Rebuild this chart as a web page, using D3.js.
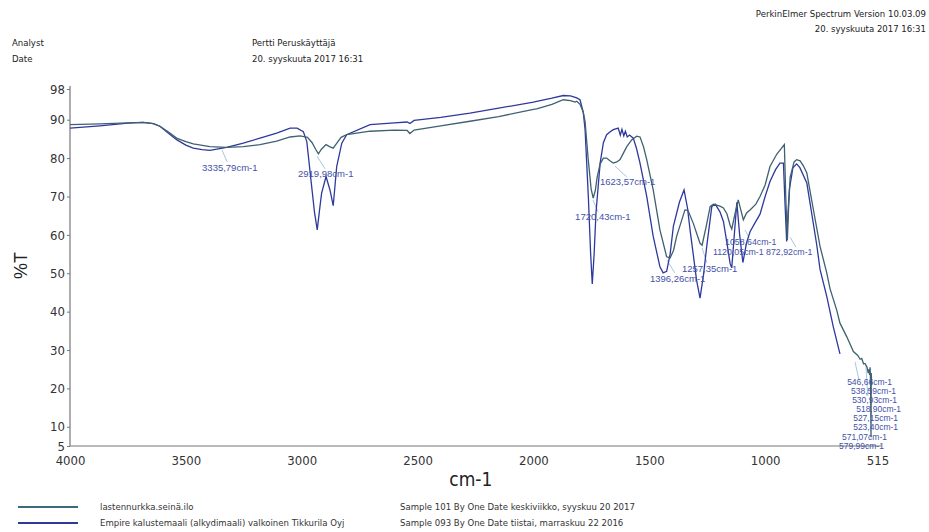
<!DOCTYPE html>
<html>
<head>
<meta charset="utf-8">
<script src="https://cdn.jsdelivr.net/npm/d3@7"></script>
<style>
  body { margin: 0; background: #fff; }
  svg text { font-family: "Liberation Sans Narrow", "Arial Narrow", "DejaVu Sans Condensed", sans-serif; }
</style>
</head>
<body>
<div id="spectrum"></div>
<script>
// lastennurkka.seinä.ilo (dark line)
var wnA = [4000, 3870, 3750, 3685, 3640, 3612, 3575, 3540, 3500, 3468, 3396, 3324, 3252, 3180, 3108, 3050, 3007, 2975, 2955, 2940, 2928, 2915, 2895, 2880, 2864, 2850, 2830, 2806, 2705, 2600, 2545, 2533, 2515, 2400, 2274, 2150, 2000, 1986, 1920, 1871, 1840, 1820, 1813, 1799, 1785, 1777, 1764, 1751, 1742, 1733, 1725, 1712, 1698, 1684, 1670, 1655, 1640, 1626, 1610, 1597, 1575, 1554, 1540, 1525, 1511, 1483, 1454, 1425, 1410, 1395, 1382, 1346, 1333, 1310, 1281, 1272, 1255, 1237, 1223, 1195, 1180, 1165, 1151, 1144, 1130, 1116, 1105, 1094, 1080, 1065, 1040, 1022, 1000, 979, 950, 917, 911, 904, 898, 892, 875, 864, 849, 835, 820, 793, 763, 734, 720, 691, 677, 648, 619, 600, 590, 583, 575, 569, 560, 555, 551, 549, 547, 545, 543, 542, 540]
var tA = [88.7, 88.9, 89.2, 89.3, 89.0, 88.3, 86.8, 85.2, 84.3, 83.7, 83.0, 82.8, 83.0, 83.5, 84.4, 85.5, 85.8, 85.4, 84.0, 82.3, 81.1, 82.3, 83.5, 83.0, 82.6, 83.8, 85.4, 86.1, 87.0, 87.3, 87.2, 86.4, 87.3, 88.4, 89.6, 90.8, 92.7, 92.8, 94.0, 95.2, 95.0, 94.6, 94.8, 94.0, 92.0, 89.5, 80.0, 72.0, 69.6, 71.5, 75.0, 78.5, 80.0, 80.0, 79.3, 78.7, 79.0, 79.6, 81.5, 83.0, 84.8, 85.7, 85.5, 83.0, 79.6, 71.7, 61.3, 54.3, 54.0, 56.0, 59.6, 66.5, 66.4, 63.0, 57.8, 57.3, 62.0, 67.4, 68.0, 67.5, 67.0, 65.5, 62.5, 61.5, 65.5, 69.1, 66.5, 63.9, 65.7, 66.5, 68.0, 70.0, 73.0, 77.8, 81.0, 83.5, 70.0, 58.7, 68.0, 75.0, 79.0, 79.6, 79.3, 78.0, 76.1, 67.0, 57.0, 50.1, 46.0, 40.4, 37.0, 33.5, 29.6, 28.6, 27.6, 27.8, 26.4, 26.5, 25.5, 24.0, 25.0, 23.5, 25.5, 22.0, 7.3, 24.0, 21.0]

// Empire kalustemaali (blue line)
var wnB = [4000, 3871, 3750, 3685, 3640, 3612, 3575, 3540, 3500, 3468, 3430, 3396, 3324, 3252, 3180, 3108, 3050, 3020, 2993, 2978, 2957, 2945, 2933, 2924, 2914, 2895, 2878, 2864, 2849, 2827, 2806, 2705, 2600, 2545, 2533, 2515, 2400, 2274, 2150, 2000, 1986, 1920, 1871, 1840, 1813, 1799, 1785, 1777, 1763, 1753, 1746, 1738, 1730, 1720, 1712, 1698, 1684, 1670, 1655, 1634, 1625, 1618, 1610, 1603, 1595, 1585, 1569, 1555, 1540, 1511, 1483, 1454, 1440, 1425, 1410, 1396, 1370, 1350, 1335, 1324, 1296, 1281, 1266, 1252, 1230, 1215, 1195, 1180, 1165, 1151, 1144, 1133, 1122, 1110, 1096, 1080, 1065, 1045, 1022, 1000, 979, 955, 936, 921, 914, 907, 901, 895, 880, 864, 850, 820, 800, 777, 763, 734, 706, 677]
var tB = [87.8, 88.4, 89.1, 89.3, 89.0, 88.3, 86.5, 84.8, 83.4, 82.6, 82.2, 82.0, 82.8, 83.9, 85.2, 86.5, 87.8, 87.8, 86.9, 84.3, 72.6, 66.0, 61.3, 66.0, 70.9, 75.2, 71.7, 67.6, 77.8, 83.9, 86.1, 88.7, 89.2, 89.4, 89.0, 89.8, 90.6, 91.7, 93.0, 94.6, 94.8, 95.6, 96.3, 96.2, 95.7, 95.2, 92.0, 87.4, 70.0, 55.0, 47.2, 55.0, 65.7, 73.0, 78.7, 84.0, 86.1, 86.8, 87.4, 87.8, 86.0, 87.5, 85.8, 87.0, 85.5, 86.0, 85.2, 82.5, 78.7, 70.0, 59.6, 51.7, 50.1, 50.5, 55.0, 62.2, 68.5, 71.7, 67.0, 61.3, 48.3, 43.5, 49.5, 57.0, 67.4, 68.0, 66.0, 63.5, 58.0, 52.5, 51.4, 60.0, 68.5, 60.0, 52.8, 58.0, 60.8, 63.0, 65.4, 70.0, 73.9, 77.0, 78.7, 78.7, 68.0, 58.3, 66.0, 72.0, 77.5, 78.5, 77.5, 73.5, 66.0, 57.3, 51.0, 44.0, 36.1, 29.0]

// peak labels: text, label position (wn, %T), font size; leader line from/to (wn, %T)
var peakText = ["3335,79cm-1", "2919,98cm-1", "1720,43cm-1", "1623,57cm-1", "1396,26cm-1", "1257,35cm-1", "1058,64cm-1", "1120,05cm-1", "872,92cm-1",
  "546,66cm-1", "538,59cm-1", "530,93cm-1", "518,90cm-1", "527,15cm-1", "523,40cm-1", "571,07cm-1", "579,99cm-1"]
var peakLabelWn = [3430, 3016, 1820, 1713, 1497, 1359, 1173, 1225, 996, 646, 629, 624.5, 607, 620, 620, 668, 681]
var peakLabelT = [76.6, 75.1, 63.9, 73.0, 47.7, 50.3, 57.4, 54.8, 54.8, 20.9, 18.5, 16.2, 13.9, 11.5, 9.2, 6.6, 4.2]
var peakFont = [9.5, 9.5, 9.5, 9.5, 9.5, 9.5, 8.8, 8.8, 8.8, 8.5, 8.5, 8.5, 8.5, 8.5, 8.5, 8.5, 8.5]
var leaderWn1 = [3344, 2934, 1743, 1648, 1424, 1272, 1087, 892, 612, 565]
var leaderT1 = [82.1, 80.5, 69.1, 77.9, 53.5, 56.6, 61.3, 59.4, 26.9, 26.0]
var leaderWn2 = [3322, 2899, 1721, 1597, 1390, 1251, 1069, 867, 595, 557]
var leaderT2 = [79.0, 77.2, 66.0, 75.1, 50.1, 52.7, 59.2, 56.8, 22.2, 18.0]

var xTicks = [4000, 3500, 3000, 2500, 2000, 1500, 1000, 515]
var yTicks = [98, 90, 80, 70, 60, 50, 40, 30, 20, 10, 5]

var legendNames = ["lastennurkka.seinä.ilo", "Empire kalustemaali (alkydimaali) valkoinen Tikkurila Oyj"]
var legendSamples = ["Sample 101 By One Date keskiviikko, syyskuu 20 2017", "Sample 093 By One Date tiistai, marraskuu 22 2016"]

var colorA = "#3e6170", colorB = "#2e399c"
var labelColor = "#4452a8", leaderColor = "#a9c6de"

var W = 929, H = 532
var svg = d3.select("#spectrum").append("svg")
  .attr("width", W)
  .attr("height", H)

svg.append("rect").attr("width", W).attr("height", H).attr("fill", "#fff")

// header
var hdr = svg.append("g").attr("fill", "#222").style("font-size", "9.5px")
hdr.append("text").attr("x", 926).attr("y", 17).attr("text-anchor", "end").text("PerkinElmer Spectrum Version 10.03.09")
hdr.append("text").attr("x", 926).attr("y", 32).attr("text-anchor", "end").text("20. syyskuuta 2017 16:31")
hdr.append("text").attr("x", 12).attr("y", 46).text("Analyst")
hdr.append("text").attr("x", 12).attr("y", 62).text("Date")
hdr.append("text").attr("x", 252).attr("y", 46).text("Pertti Peruskäyttäjä")
hdr.append("text").attr("x", 252).attr("y", 62).text("20. syyskuuta 2017 16:31")

var x = d3.scaleLinear().domain([4000, 515]).range([70, 877.5])
var y = d3.scaleLinear().domain([5, 98]).range([446, 89])

var xAxis = d3.axisBottom(x).tickValues(xTicks).tickSize(0).tickPadding(10).tickFormat(d3.format("d"))
var yAxis = d3.axisLeft(y).tickValues(yTicks).tickSize(3).tickPadding(2).tickFormat(d3.format("d"))

var gx = svg.append("g").attr("transform", "translate(0," + y(5) + ")").call(xAxis)
var gy = svg.append("g").attr("transform", "translate(" + x(4000) + ",0)").call(yAxis)

;[gx, gy].forEach(function (g) {
  g.select(".domain").attr("stroke", "#777").attr("stroke-width", 1.2)
  g.selectAll(".tick line").attr("stroke", "#777")
  g.selectAll(".tick text").attr("fill", "#333").style("font-size", "13px")
})
// stretch the bottom axis line a little past the last tick, like the original
gx.select(".domain").attr("d", "M" + x(4000) + ",0H" + (x(515) + 4))
gy.select(".domain").attr("d", "M0," + (y(98) - 3) + "V" + y(5))

svg.append("text")
  .attr("transform", "translate(27," + y(52) + ") rotate(-90)")
  .attr("text-anchor", "middle")
  .attr("fill", "#222")
  .style("font-size", "18px")
  .style("font-family", "Liberation Sans, Arial, sans-serif")
  .text("%T")

svg.append("text")
  .attr("x", x(2270)).attr("y", 486)
  .attr("text-anchor", "middle")
  .attr("fill", "#222")
  .style("font-size", "19px")
  .text("cm-1")

var line = d3.line()
  .x(function (d) { return x(d[0]) })
  .y(function (d) { return y(d[1]) })

var seriesA = d3.zip(wnA, tA)
var seriesB = d3.zip(wnB, tB)

// leader lines under the curves
svg.append("g").selectAll("line")
  .data(d3.range(leaderWn1.length))
  .enter().append("line")
  .attr("x1", function (i) { return x(leaderWn1[i]) })
  .attr("y1", function (i) { return y(leaderT1[i]) })
  .attr("x2", function (i) { return x(leaderWn2[i]) })
  .attr("y2", function (i) { return y(leaderT2[i]) })
  .attr("stroke", leaderColor)
  .attr("stroke-width", 1)

svg.append("path").datum(seriesB)
  .attr("d", line)
  .attr("fill", "none")
  .attr("stroke", colorB)
  .attr("stroke-width", 1.3)

svg.append("path").datum(seriesA)
  .attr("d", line)
  .attr("fill", "none")
  .attr("stroke", colorA)
  .attr("stroke-width", 1.3)

svg.append("g").selectAll("text")
  .data(peakText)
  .enter().append("text")
  .attr("x", function (d, i) { return x(peakLabelWn[i]) })
  .attr("y", function (d, i) { return y(peakLabelT[i]) })
  .attr("fill", labelColor)
  .style("font-size", function (d, i) { return peakFont[i] + "px" })
  .style("font-family", "Liberation Sans, Arial, sans-serif")
  .text(function (d) { return d })

// legend
var legend = svg.append("g")
legend.selectAll("line")
  .data(legendNames)
  .enter().append("line")
  .attr("x1", 18).attr("x2", 78)
  .attr("y1", function (d, i) { return 507 + i * 16 })
  .attr("y2", function (d, i) { return 507 + i * 16 })
  .attr("stroke", function (d, i) { return i == 0 ? "#3b6b7c" : colorB })
  .attr("stroke-width", 2)

legend.selectAll("text.name")
  .data(legendNames)
  .enter().append("text")
  .attr("class", "name")
  .attr("x", 100)
  .attr("y", function (d, i) { return 510 + i * 16 })
  .attr("fill", "#333")
  .style("font-size", "9.5px")
  .text(function (d) { return d })

legend.selectAll("text.sample")
  .data(legendSamples)
  .enter().append("text")
  .attr("class", "sample")
  .attr("x", 400)
  .attr("y", function (d, i) { return 510 + i * 16 })
  .attr("fill", "#333")
  .style("font-size", "9.5px")
  .text(function (d) { return d })
</script>
</body>
</html>
